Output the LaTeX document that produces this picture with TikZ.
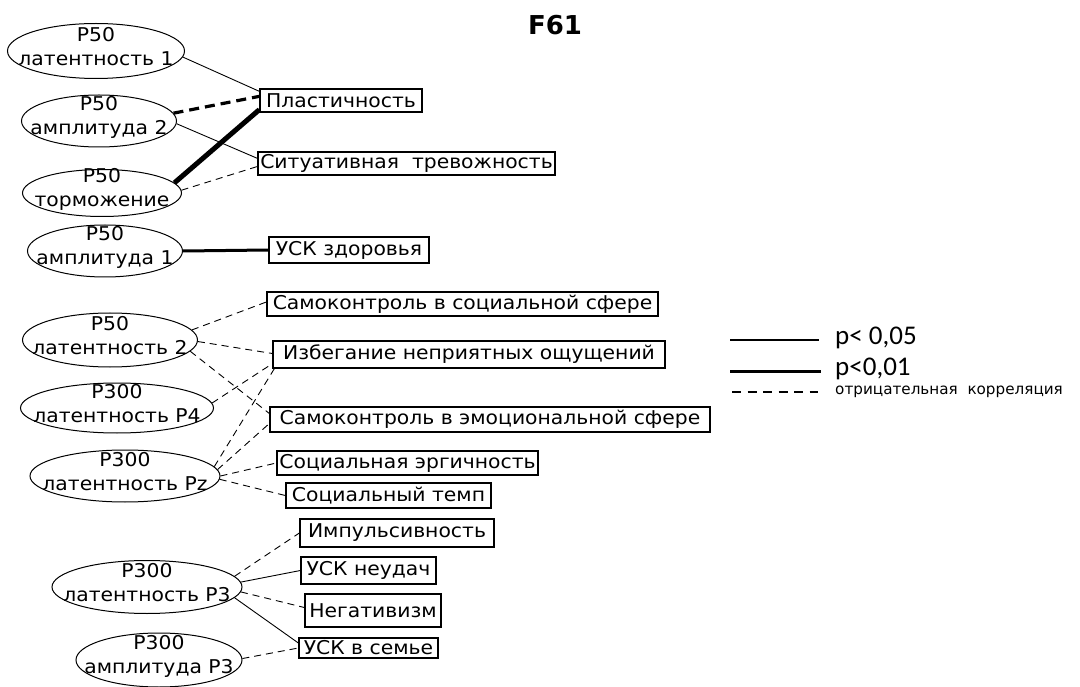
\documentclass[tikz,border=0pt]{standalone}
\usepackage{fontspec}
\setmainfont{DejaVu Sans}
\newfontfamily\lab{DejaVu Sans}[FakeStretch=1.07]
\newfontfamily\legfont{Carlito}
\usetikzlibrary{shapes.geometric}
\begin{document}
\begin{tikzpicture}[x=1pt,y=-1pt,
  ell/.style={draw, ellipse, line width=1pt, inner sep=0pt},
  etxt/.style={align=center, font=\lab\fontsize{19}{24}\selectfont, inner sep=0pt},
  box/.style={draw, line width=1.3pt, inner sep=0pt, font=\lab\fontsize{19}{22}\selectfont},
  thinl/.style={line width=0.9pt},
  thickl/.style={line width=3pt},
  vthickl/.style={line width=5pt},
  neg/.style={line width=0.9pt, dash pattern=on 7pt off 5pt},
  negthick/.style={line width=3.2pt, dash pattern=on 10pt off 6pt},
  legtxt/.style={anchor=west, inner sep=0pt, font=\legfont\fontsize{27}{30}\selectfont},
]
\useasboundingbox (0,0) rectangle (1080,687);

% title
\node[font=\bfseries\fontsize{26}{30}\selectfont, inner sep=0pt] (title) at (555,25) {F61};

% ellipses
\node[ell, minimum width=177pt, minimum height=55pt] (e1) at (96,51) {};
\node[etxt] (e1t) at (96,47) {P50\\латентность 1};
\node[ell, minimum width=155pt, minimum height=52pt] (e2) at (99,121) {};
\node[etxt] (e2t) at (99,117) {P50\\амплитуда 2};
\node[ell, minimum width=159pt, minimum height=47pt] (e3) at (102,193) {};
\node[etxt] (e3t) at (102,189) {P50\\торможение};
\node[ell, minimum width=155pt, minimum height=52pt] (e4) at (105,251) {};
\node[etxt] (e4t) at (105,247) {P50\\амплитуда 1};
\node[ell, minimum width=175pt, minimum height=54pt] (e5) at (110,340) {};
\node[etxt] (e5t) at (110,336) {P50\\латентность 2};
\node[ell, minimum width=193pt, minimum height=50pt] (e6) at (117,408) {};
\node[etxt] (e6t) at (117,404) {P300\\латентность P4};
\node[ell, minimum width=190pt, minimum height=52pt] (e7) at (125,476) {};
\node[etxt] (e7t) at (125,472) {P300\\латентность Pz};
\node[ell, minimum width=190pt, minimum height=53pt] (e8) at (147,587) {};
\node[etxt] (e8t) at (147,583) {P300\\латентность P3};
\node[ell, minimum width=166pt, minimum height=54pt] (e9) at (159,660) {};
\node[etxt] (e9t) at (159,656) {P300\\амплитуда P3};

% boxes
\node[box, minimum width=162pt, minimum height=23pt] (b1) at (341,100.5) {Пластичность};
\node[box, minimum width=297pt, minimum height=23pt] (b2) at (406.5,163.5) {Ситуативная~ тревожность};
\node[box, minimum width=160pt, minimum height=26pt] (b3) at (349,250) {УСК здоровья};
\node[box, minimum width=391pt, minimum height=24pt] (b4) at (462.5,304) {Самоконтроль в социальной сфере};
\node[box, minimum width=392pt, minimum height=27pt] (b5) at (469,354.5) {Избегание неприятных ощущений};
\node[box, minimum width=440pt, minimum height=25pt] (b6) at (490,419.5) {Самоконтроль в эмоциональной сфере};
\node[box, minimum width=261pt, minimum height=24pt] (b7) at (407.5,463) {Социальная эргичность};
\node[box, minimum width=205pt, minimum height=25pt] (b8) at (388.5,495.5) {Социальный темп};
\node[box, minimum width=194pt, minimum height=28pt] (b9) at (397,533) {Импульсивность};
\node[box, minimum width=135pt, minimum height=27pt] (b10) at (368.5,570.5) {УСК неудач};
\node[box, minimum width=136pt, minimum height=33pt] (b11) at (373,610.5) {Негативизм};
\node[box, minimum width=139pt, minimum height=20pt] (b12) at (368.5,648) {УСК в семье};

% connectors
\draw[thinl] (e1.-4) -- ([yshift=-3pt]b1.north west);
\draw[negthick] (e2.6) -- ([yshift=-8pt]b1.north west);
\draw[thinl] (e2.-2) -- ([yshift=-7pt]b2.north west);
\draw[vthickl] (e3.8) -- ([yshift=3pt]b1.south west);
\draw[neg] (e3.2) -- ([yshift=-3pt]b2.west);
\draw[thickl] (e4.east) -- (b3.west);
\draw[neg] (e5.7) -- ([yshift=2pt]b4.west);
\draw[neg] (e5.-1) -- ([yshift=1pt]b5.west);
\draw[neg] (e5.-8) -- ([yshift=6pt]b6.west);
\draw[neg] (e6.3) -- ([yshift=5pt]b5.south west);
\draw[neg] (e7.6) -- ([xshift=2pt]b5.south west);
\draw[neg] (e7.4) -- ([yshift=-4pt]b6.west);
\draw[neg] (e7.0) -- (b7.west);
\draw[neg] (e7.-2) -- (b8.west);
\draw[neg] (e8.7) -- (b9.west);
\draw[thinl] (e8.3) -- (b10.west);
\draw[neg] (e8.-3) -- ([yshift=3pt]b11.west);
\draw[thinl] (e8.-7) -- ([yshift=5pt]b12.west);
\draw[neg] (e9.1) -- (b12.west);

% legend
\coordinate (l1a) at (730,340); \coordinate (l1b) at (819,340);
\coordinate (l2a) at (730,371); \coordinate (l2b) at (821,371);
\coordinate (l3a) at (732,392); \coordinate (l3b) at (818,392);
\draw[line width=1.3pt] (l1a) -- (l1b);
\draw[line width=3pt] (l2a) -- (l2b);
\draw[line width=1.2pt, dash pattern=on 9pt off 6.5pt] (l3a) -- (l3b);
\node[legtxt] (t1) at (835,338) {p< 0,05};
\node[legtxt] (t2) at (835,369) {p<0,01};
\node[anchor=west, inner sep=0pt, font=\fontsize{15.2}{18}\selectfont] (t3) at (835,392) {отрицательная~ корреляция};
\end{tikzpicture}
\end{document}
